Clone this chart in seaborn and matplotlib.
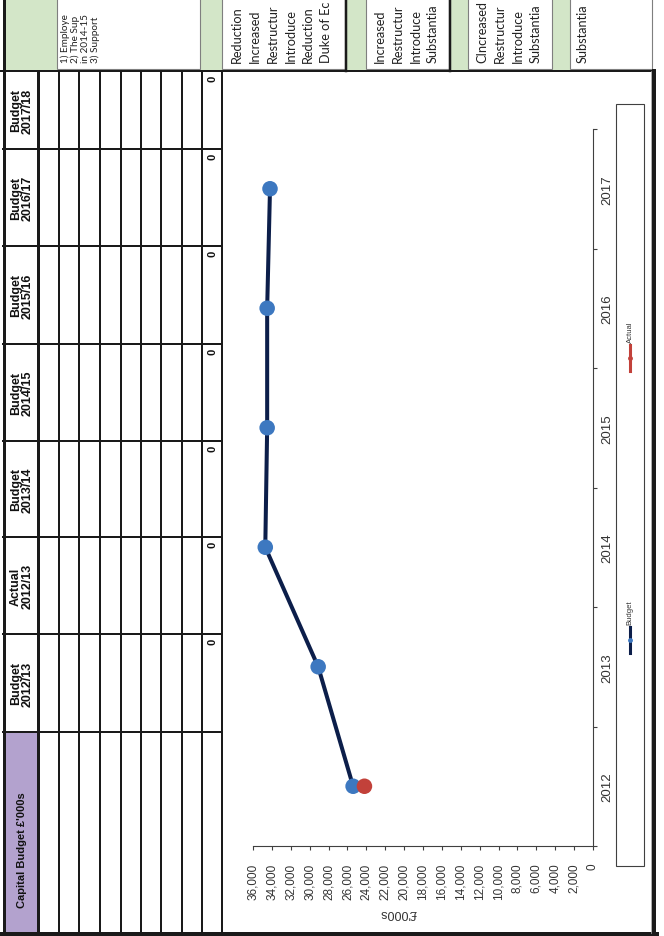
import matplotlib
matplotlib.use("Agg")
import matplotlib.pyplot as plt
from matplotlib.patches import Rectangle
from matplotlib.ticker import FixedLocator, FuncFormatter
import numpy as np
import pandas as pd
import seaborn as sns

# ---- chart values (£'000s) ----
years = ["2012", "2013", "2014", "2015", "2016", "2017"]
budget = [25400, 29100, 34700, 34500, 34500, 34200]
actual_years = ["2012"]
actual = [24200]
value_ticks = list(range(0, 36001, 2000))
value_title = "£'000s"
series_names = ["Budget", "Actual"]

# ---- table contents ----
table_title = "Capital Budget £'000s"
table_headers = ["Budget\n2012/13", "Actual\n2012/13", "Budget\n2013/14",
                 "Budget\n2014/15", "Budget\n2015/16", "Budget\n2016/17",
                 "Budget\n2017/18"]
table_totals = [0, 0, 0, 0, 0, 0, 0]

# ---- commentary boxes along the top edge ----
notes_1 = ["1) Employe", "2) The Sup", "in 2014-15", "3) Support"]
notes_2 = ["Reduction", "Increased", "Restructur", "Introduce", "Reduction", "Duke of Ec"]
notes_3 = ["Increased", "Restructur", "Introduce", "Substantia"]
notes_4 = ["CIncreased", "Restructur", "Introduce", "Substantia"]
notes_5 = ["Substantia"]

NAVY = "#0C1E4A"
BLUE = "#3D78C0"
RED = "#C2413A"
GREEN = "#D3E6C8"
PURPLE = "#B3A2CE"
AXC = "#404040"

plt.rcParams["font.family"] = ["Liberation Sans", "DejaVu Sans"]

W, H = 664, 937
fig = plt.figure(figsize=(W / 100, H / 100), dpi=100)
fig.patch.set_facecolor("white")

# background layer in pixel units (y grows downward)
bg = fig.add_axes([0, 0, 1, 1])
bg.set_xlim(0, W)
bg.set_ylim(H, 0)
bg.axis("off")

px = 0.72  # points per pixel

# ---------- commentary strip ----------
green_cols = [(3, 57), (200, 222), (347, 366), (450, 468), (552, 570)]
for x0, x1 in green_cols:
    bg.add_patch(Rectangle((x0, 0), x1 - x0, 72, facecolor=GREEN, edgecolor="none", zorder=1))

note_boxes = [
    ((57, 200), notes_1, [65, 75, 85, 95], 7.2),
    ((222, 345), notes_2, [237, 255, 273, 291, 308, 326], 9.2),
    ((366, 449), notes_3, [380, 398, 416, 433], 9.2),
    ((468, 552), notes_4, [482, 500, 518, 536], 9.2),
    ((570, 652), notes_5, [583], 9.2),
]
for (x0, x1), lines, xs, fs in note_boxes:
    bg.add_patch(Rectangle((x0, -2), x1 - x0, 72, facecolor="white",
                           edgecolor="#7F7F7F", lw=0.8, zorder=2))
    for xc, line in zip(xs, lines):
        bg.text(xc, 63, line, rotation=90, ha="center", va="bottom",
                fontsize=fs, family=["Lato", "DejaVu Sans"], color="#222222", zorder=3)

for xb in (346, 449.5):
    bg.plot([xb, xb], [0, 72], color="#1A1A1A", lw=2.5 * px, zorder=4)

# ---------- table ----------
row_edges = [38, 59, 79, 100, 121, 141, 161, 182, 202, 222]
col_edges = [72, 150, 247, 345, 442, 538, 635, 733, 933]

# title cell
bg.add_patch(Rectangle((4, 733), 34, 200, facecolor=PURPLE, edgecolor="none", zorder=1))
bg.text(22, 908, table_title, rotation=90, ha="center", va="bottom",
        fontsize=8, fontweight="bold", color="#111111", zorder=5)

# column headers and totals, listed from the latest year down
heads = list(reversed(table_headers))
tots = list(reversed(table_totals))
for i, (hd, tv) in enumerate(zip(heads, tots)):
    y0, y1 = col_edges[i], col_edges[i + 1]
    bg.text(21.5, (y0 + y1) / 2, hd, rotation=90, ha="center", va="center",
            multialignment="center", linespacing=0.95,
            fontsize=9, fontweight="bold", color="#111111", zorder=5)
    bg.text(212, y0 + 4, f"{tv:d}", rotation=90, ha="center", va="top",
            fontsize=8, fontweight="bold", color="#111111", zorder=5)

for xr in row_edges:
    lw = 3 if xr == 38 else 2
    bg.plot([xr, xr], [72, 933], color="#1A1A1A", lw=lw * px, zorder=4)
for yc in col_edges[1:-1]:
    bg.plot([3, 222], [yc, yc], color="#1A1A1A", lw=2 * px, zorder=4)
bg.plot([0, 654], [72, 72], color="#1A1A1A", lw=2 * px, zorder=4)

# outer frame
bg.plot([3.5, 3.5], [0, 937], color="#1A1A1A", lw=3 * px, zorder=6)
bg.plot([0, 656], [934.5, 934.5], color="#1A1A1A", lw=5 * px, zorder=6)
bg.plot([654, 654], [72, 937], color="#1A1A1A", lw=4 * px, zorder=6)
bg.plot([650.5, 650.5], [72, 934], color="#9A9A9A", lw=0.8 * px, zorder=6)

# ---------- chart (value axis runs right to left, years bottom to top) ----------
ax = fig.add_axes([253 / W, (H - 847) / H, 340 / W, 717 / H])
ax.set_facecolor("none")

df_budget = pd.DataFrame({"year": years, "pos": np.arange(len(years)), "value": budget})
df_actual = pd.DataFrame({"year": actual_years,
                          "pos": [years.index(y) for y in actual_years],
                          "value": actual})

sns.lineplot(data=df_budget, x="value", y="pos", orient="y", sort=True,
             color=NAVY, linewidth=2.9, ax=ax, legend=False, zorder=2)
sns.scatterplot(data=df_budget, x="value", y="pos", color=BLUE, s=125,
                edgecolor="none", linewidth=0, ax=ax, legend=False, zorder=3)
sns.scatterplot(data=df_actual, x="value", y="pos", color=RED, s=125,
                edgecolor="none", linewidth=0, ax=ax, legend=False, zorder=4)

ax.set_xlim(value_ticks[-1], value_ticks[0])
ax.set_ylim(-0.5, len(years) - 0.5)

ax.xaxis.set_major_locator(FixedLocator(value_ticks))
ax.xaxis.set_major_formatter(FuncFormatter(lambda v, p: f"{int(round(v)):,}"))
ax.tick_params(axis="x", direction="out", length=3, width=0.8, color=AXC,
               labelsize=8.5, labelcolor="#333333", pad=9)
for lab in ax.get_xticklabels():
    lab.set_rotation(90)
    lab.set_va("top")
    lab.set_ha("center")

ax.yaxis.tick_right()
ax.set_yticks(np.arange(len(years)))
ax.set_yticklabels(years)
ax.set_yticks(np.arange(-0.5, len(years)), minor=True)
ax.tick_params(axis="y", which="major", length=0, labelsize=9.5,
               labelcolor="#333333", pad=6)
ax.tick_params(axis="y", which="minor", direction="out", length=3, width=0.8, color=AXC)
for lab in ax.get_yticklabels():
    lab.set_rotation(90)
    lab.set_va("center")
    lab.set_ha("left")

for side in ("top", "left"):
    ax.spines[side].set_visible(False)
for side in ("bottom", "right"):
    ax.spines[side].set_color(AXC)
    ax.spines[side].set_linewidth(0.8)
ax.set_ylabel("")
ax.set_xlabel(value_title, fontsize=9, color="#333333")
ax.xaxis.set_label_coords((398 - 253) / 340, (847 - 913) / 717)
ax.xaxis.label.set_rotation(180)
ax.xaxis.label.set_va("center")
ax.grid(False)

# ---------- legend ----------
bg.add_patch(Rectangle((616, 105), 28, 762, facecolor="white", edgecolor=AXC, lw=0.8, zorder=7))
legend_spec = [(series_names[0], NAVY, BLUE, 641), (series_names[1], RED, RED, 359)]
for name, lc, mc, yc in legend_spec:
    bg.plot([630, 630], [yc - 13, yc + 13], color=lc, lw=2.2, zorder=8)
    bg.plot([630], [yc], marker="o", ms=3.5, color=mc, mec="none", zorder=9)
    bg.text(630, yc - 16, name, rotation=90, ha="center", va="bottom",
            fontsize=5.5, color="#333333", zorder=9)

fig.savefig("out.png", dpi=100, facecolor="white")
